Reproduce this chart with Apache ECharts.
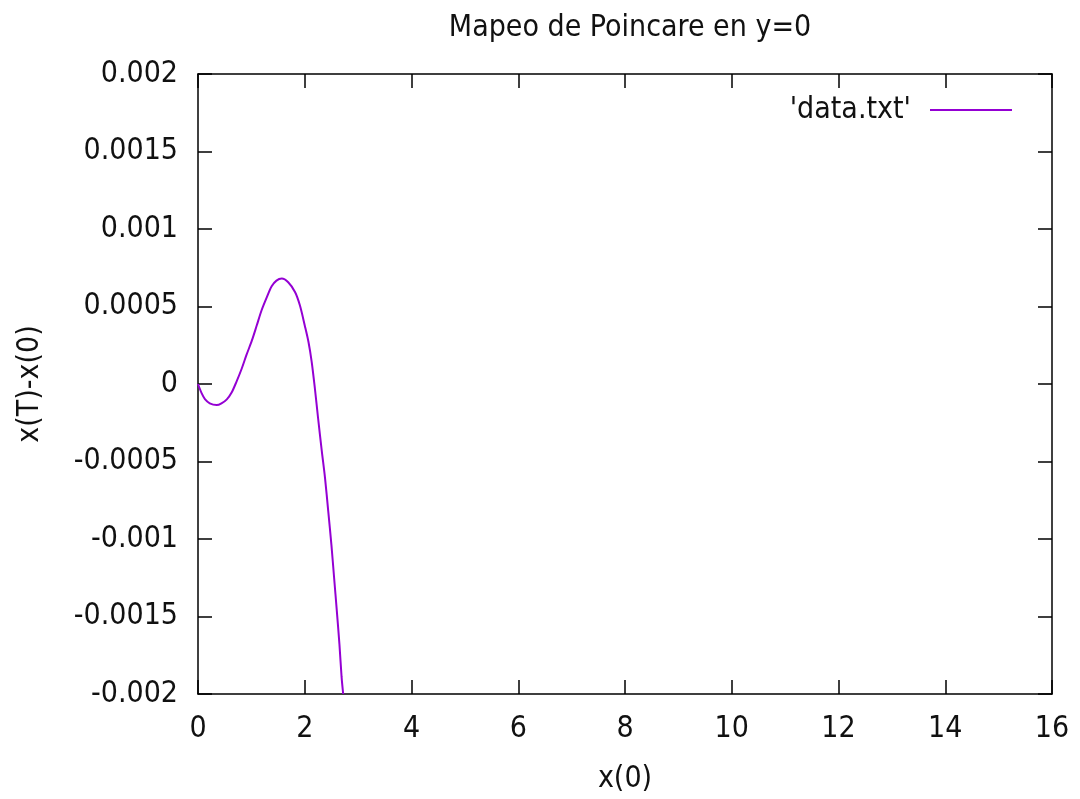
<!DOCTYPE html>
<html>
<head>
<meta charset="utf-8">
<script src="https://cdn.jsdelivr.net/npm/echarts@6/dist/echarts.min.js"></script>
<style>html,body{margin:0;padding:0;background:#fff}#c{width:1080px;height:799px}</style>
</head>
<body>
<div id="c"></div>
<script>
const titleText = "Mapeo de Poincare en y=0";
const seriesName = "'data.txt'";
const xName = "x(0)";
const yName = "x(T)-x(0)";
const xVals = [0, 0.07, 0.13, 0.22, 0.35, 0.44, 0.54, 0.63, 0.72, 0.82, 0.91, 1.01, 1.10, 1.19, 1.29, 1.38, 1.47, 1.57, 1.69, 1.82, 1.91, 2.00, 2.07, 2.13, 2.19, 2.25, 2.32, 2.38, 2.44, 2.50, 2.55, 2.60, 2.65, 2.69, 2.72];
const yVals = [0, -0.000061, -0.000098, -0.000125, -0.000136, -0.000125, -0.000099, -0.000055, 0.000014, 0.0001, 0.000189, 0.000281, 0.000377, 0.000474, 0.00056, 0.00063, 0.000667, 0.00068, 0.000656, 0.000592, 0.000506, 0.000378, 0.000271, 0.000143, -0.000029, -0.000221, -0.000435, -0.000607, -0.00082, -0.00104, -0.00125, -0.00146, -0.00168, -0.00189, -0.002];
const yTickLabels = ["-0.002", "-0.0015", "-0.001", "-0.0005", "0", "0.0005", "0.001", "0.0015", "0.002"];
const xTickLabels = ["0", "2", "4", "6", "8", "10", "12", "14", "16"];

const FONT = "'DejaVu Sans Condensed', 'Liberation Sans', sans-serif";
const FS = 30;
const yMin = -0.002, yMax = 0.002, yStep = 0.0005;
const xMin = 0, xMax = 16, xStep = 2;

const data = xVals.map((x, i) => [x, yVals[i]]);
const chart = echarts.init(document.getElementById('c'), null, {renderer: 'canvas'});

const axisCommon = {
  axisLine: {show: true, onZero: false, lineStyle: {color: '#000', width: 1.5}},
  axisTick: {show: true, inside: true, length: 14, lineStyle: {color: '#000', width: 1.5}},
  splitLine: {show: false}
};

chart.setOption({
  animation: false,
  backgroundColor: '#fff',
  title: {
    text: titleText,
    left: 625, top: 8, textAlign: 'center',
    textStyle: {fontFamily: FONT, fontSize: FS, fontWeight: 'normal', color: '#111'}
  },
  legend: {
    right: 63, top: 90, align: 'right',
    itemWidth: 82, itemHeight: 2, itemGap: 0,
    icon: 'rect',
    textStyle: {fontFamily: FONT, fontSize: FS, color: '#111', padding: [0, 14, 0, 0]},
    data: [seriesName]
  },
  grid: {left: 198, right: 28, top: 74, bottom: 102, containLabel: false},
  xAxis: [
    Object.assign({
      type: 'value', min: xMin, max: xMax, interval: xStep, position: 'bottom',
      name: xName, nameLocation: 'middle', nameGap: 70,
      nameTextStyle: {fontFamily: FONT, fontSize: FS, color: '#111'},
      axisLabel: {fontFamily: FONT, fontSize: FS, color: '#111', margin: 20,
        formatter: v => xTickLabels[Math.round((v - xMin) / xStep)]}
    }, axisCommon),
    Object.assign({
      type: 'value', min: xMin, max: xMax, interval: xStep, position: 'top',
      axisLabel: {show: false}
    }, axisCommon)
  ],
  yAxis: [
    Object.assign({
      type: 'value', min: yMin, max: yMax, interval: yStep, position: 'left',
      name: yName, nameLocation: 'middle', nameGap: 153,
      nameTextStyle: {fontFamily: FONT, fontSize: FS, color: '#111'},
      axisLabel: {fontFamily: FONT, fontSize: FS, color: '#111', margin: 20,
        formatter: v => yTickLabels[Math.round((v - yMin) / yStep)]}
    }, axisCommon),
    Object.assign({
      type: 'value', min: yMin, max: yMax, interval: yStep, position: 'right',
      axisLabel: {show: false}
    }, axisCommon)
  ],
  series: [{
    name: seriesName,
    type: 'line',
    data: data,
    smooth: 0.3,
    showSymbol: false,
    symbol: 'none',
    clip: true,
    lineStyle: {color: '#9400d3', width: 2},
    itemStyle: {color: '#9400d3'}
  }]
});
</script>
</body>
</html>
